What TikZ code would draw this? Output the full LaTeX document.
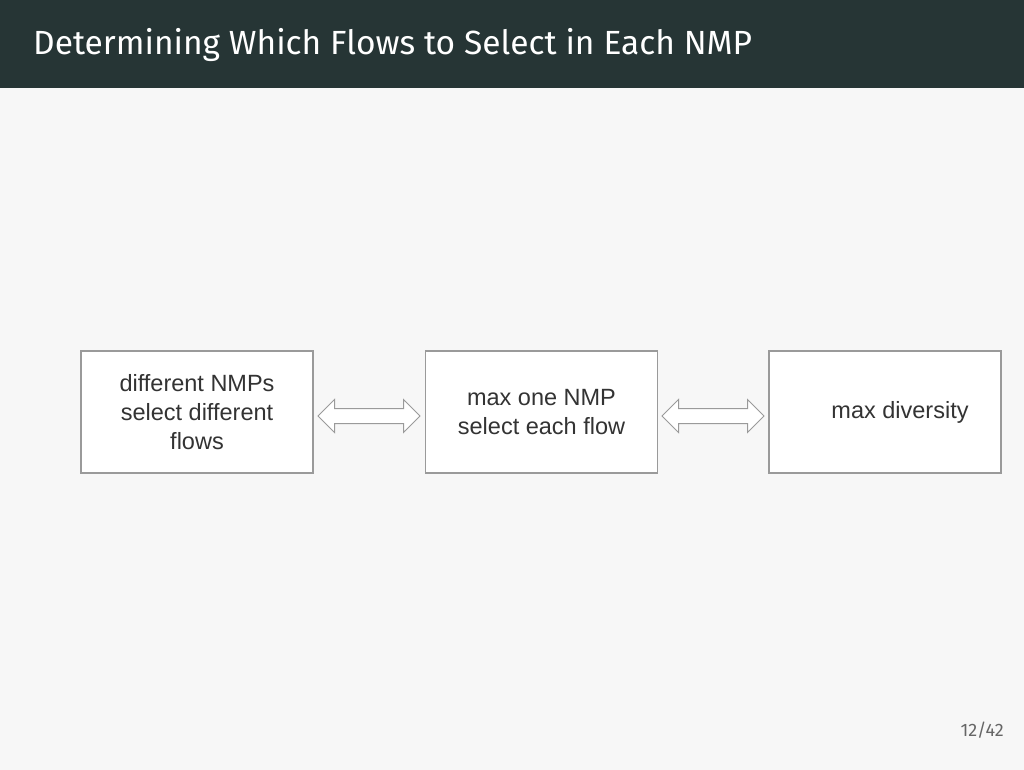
\documentclass[tikz,border=0pt]{standalone}
\usepackage{fontspec}
\setmainfont{Fira Sans}
\newfontfamily\arialf{Liberation Sans}
\usetikzlibrary{shapes.arrows}
\definecolor{barc}{HTML}{263535}
\definecolor{bgc}{HTML}{F7F7F7}
\definecolor{boxc}{HTML}{9A9A9A}
\definecolor{txtc}{HTML}{333333}
\begin{document}
\begin{tikzpicture}[x=1pt,y=-1pt,
  boxn/.style={draw=boxc,line width=1.2pt,fill=white,minimum width=232pt,minimum height=122pt,inner sep=0pt,
    font=\arialf\fontsize{23.5}{29}\selectfont,text=txtc,align=center},
  darr/.style={double arrow,draw=boxc,fill=white,line width=1pt,minimum height=102pt,
    inner xsep=0pt,inner ysep=7pt,double arrow head extend=9pt,double arrow head indent=0pt}]
\useasboundingbox (0,0) rectangle (1024,770);
\fill[bgc] (0,0) rectangle (1024,770);
\fill[barc] (0,0) rectangle (1024,88);
\node[anchor=base west,text=white,font=\fontsize{33.5}{40}\selectfont,inner sep=0pt] (title) at (33,55) {Determining Which Flows to Select in Each NMP};
\node[boxn] (a) at (197,412) {different NMPs\\select different\\flows};
\node[boxn] (b) at (541.5,412) {max one NMP\\select each flow};
\node[boxn] (c) at (885,412) {\hspace*{30pt}max diversity};
\node[darr] (d1) at (369,416) {};
\node[darr] (d2) at (713,416) {};
\node[anchor=base east,text=gray!80!black,font=\fontsize{18}{22}\selectfont,inner sep=0pt] (pg) at (1004,736) {12/42};
\end{tikzpicture}
\end{document}
